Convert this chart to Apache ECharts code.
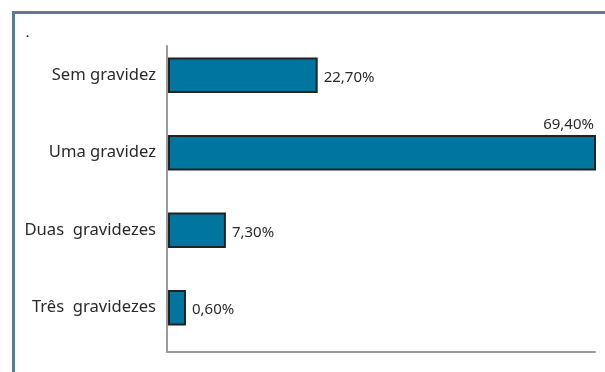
<!DOCTYPE html>
<html><head><meta charset="utf-8">
<script src="https://cdn.jsdelivr.net/npm/echarts@6/dist/echarts.min.js"></script>
<style>html,body{margin:0;padding:0;background:#fff}#c{width:605px;height:372px}</style>
</head><body><div id="c"></div>
<script>
const categories = ['Sem gravidez', 'Uma gravidez', 'Duas  gravidezes', 'Três  gravidezes'];
const values = [22.7, 69.4, 7.3, 0.6];
const valueLabels = ['22,70%', '69,40%', '7,30%', '0,60%'];

const chart = echarts.init(document.getElementById('c'), null, {renderer: 'canvas'});
const maxVal = Math.max.apply(null, values);
const axisGrey = '#9b9b9b';

chart.setOption({
  animation: false,
  title: {text: '.', left: 21, top: 23, textStyle: {fontSize: 11, color: '#111', fontWeight: 'bold'}},
  graphic: [{
    type: 'polyline', silent: true,
    shape: {points: [[13.5, 372], [13.5, 12.5], [605, 12.5]]},
    style: {stroke: '#5b7b93', lineWidth: 3, fill: null}
  }],
  grid: [
    {left: 167, top: 46, width: 428, height: 306},
    {left: 168, top: 36.5, width: 427, height: 310}
  ],
  xAxis: [
    {gridIndex: 0, type: 'value', min: 0, max: 1,
      axisLine: {show: true, lineStyle: {color: axisGrey, width: 2}},
      axisTick: {show: false}, axisLabel: {show: false}, splitLine: {show: false}},
    {gridIndex: 1, type: 'value', min: -2.25, max: 69.4, show: false}
  ],
  yAxis: [
    {gridIndex: 0, type: 'value', min: 0, max: 1,
      axisLine: {show: true, lineStyle: {color: axisGrey, width: 2}},
      axisTick: {show: false}, axisLabel: {show: false}, splitLine: {show: false}},
    {gridIndex: 1, type: 'category', inverse: true, data: categories,
      axisLine: {show: false},
      axisTick: {show: true, alignWithLabel: true, interval: 0, length: 10, lineStyle: {color: axisGrey, width: 2}},
      axisLabel: {margin: 12, color: '#2a2a2a', fontSize: 16.6, fontFamily: 'Noto Sans', interval: 0},
      splitLine: {show: false}}
  ],
  series: [{
    type: 'custom',
    xAxisIndex: 1, yAxisIndex: 1,
    data: values.map((v, i) => [v, i]),
    encode: {x: 0, y: 1},
    renderItem: function (params, api) {
      const v = api.value(0), idx = api.value(1);
      const end = api.coord([v, idx]);
      const band = api.size([0, 1])[1];
      const h = band * 0.43;
      const x0 = params.coordSys.x + 1;
      const top = end[1] - h / 2;
      const above = v === maxVal;
      return {
        type: 'group',
        children: [
          {type: 'rect', shape: {x: x0, y: top, width: end[0] - x0, height: h},
            style: {fill: '#00769f', stroke: '#222222', lineWidth: 2}},
          {type: 'text',
            style: {
              text: valueLabels[idx],
              x: above ? end[0] - 1 : end[0] + 7,
              y: above ? top - 4 : end[1] + 2,
              align: above ? 'right' : 'left',
              verticalAlign: above ? 'bottom' : 'middle',
              fill: '#2a2a2a', fontSize: 15, fontFamily: 'Noto Sans'
            }}
        ]
      };
    }
  }]
});
</script></body></html>
